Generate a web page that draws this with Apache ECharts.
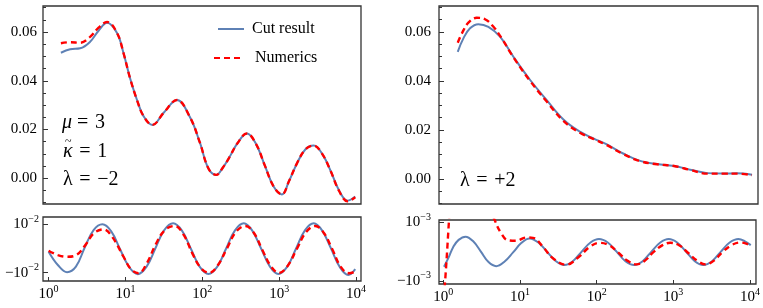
<!DOCTYPE html>
<html><head><meta charset="utf-8">
<script src="https://cdn.jsdelivr.net/npm/echarts@6/dist/echarts.min.js"></script>
<style>html,body{margin:0;padding:0;background:#fff}#c{width:763px;height:308px}</style>
</head><body><div id="c"></div>
<script>
const FONT = '"Liberation Serif", "Times New Roman", serif';
const BLUE = '#5E81B5';
const RED = '#FF0000';
const FRAME = '#333333';

// tick values
const xDecades = [1, 10, 100, 1000, 10000];
const yTicksTop = [0, 0.02, 0.04, 0.06];
const yMinorTop = [-0.01, -0.005, 0.005, 0.01, 0.015, 0.025, 0.03, 0.035, 0.045, 0.05, 0.055, 0.065, 0.07];
const yTicksBL = [-0.01, 0.01];
const yTicksBR = [-0.001, 0.001];

// top-left (lambda = -2)
const tlCutX = [1.445, 1.905, 2.570, 3.467, 4.467, 5.754, 7.762, 9.441, 11.48, 14.13, 17.18, 22.39, 31.62, 46.77, 69.18, 93.33, 120.2, 151.4, 186.2, 223.9, 288.4, 380.2, 501.2, 645.7, 851.1, 1084, 1349, 1698, 2188, 2818, 3631, 4677, 6026, 7762, 9772];
const tlCutY = [0.0515, 0.0529, 0.0533, 0.0560, 0.0605, 0.0638, 0.0596, 0.0513, 0.0410, 0.0321, 0.0255, 0.0219, 0.0270, 0.0321, 0.0250, 0.0145, 0.0040, 0.0014, 0.0045, 0.0085, 0.0145, 0.0184, 0.0140, 0.0055, -0.0035, -0.0066, -0.0010, 0.0060, 0.0118, 0.0134, 0.0100, 0.0030, -0.0050, -0.0092, -0.0075];
const tlNumX = [1.445, 1.905, 2.570, 3.467, 4.467, 5.754, 7.762, 9.441, 11.48, 14.13, 17.18, 22.39, 31.62, 46.77, 69.18, 93.33, 120.2, 151.4, 186.2, 223.9, 288.4, 380.2, 501.2, 645.7, 851.1, 1084, 1349, 1698, 2188, 2818, 3631, 4677, 6026, 7762, 9772];
const tlNumY = [0.0554, 0.0558, 0.0556, 0.0580, 0.0618, 0.0641, 0.0596, 0.0513, 0.0410, 0.0321, 0.0255, 0.0219, 0.0270, 0.0321, 0.0250, 0.0145, 0.0040, 0.0014, 0.0045, 0.0085, 0.0145, 0.0184, 0.0140, 0.0055, -0.0035, -0.0066, -0.0010, 0.0060, 0.0118, 0.0134, 0.0100, 0.0030, -0.0052, -0.0094, -0.0078];

// bottom-left residuals
const blCutX = [1, 1.318, 1.738, 2.265, 2.951, 3.846, 5.012, 6.531, 8.511, 11.09, 14.45, 18.84, 24.55, 31.99, 41.69, 54.33, 70.79, 92.26, 120.2, 156.7, 204.2, 266.1, 346.7, 446.7, 582.1, 758.6, 977.2, 1274, 1660, 2163, 2818, 3631, 4732, 6166, 7943, 9772];
const blCutY = [-0.0013, -0.0068, -0.0098, -0.0075, 0.0004, 0.0076, 0.0100, 0.0071, -0.0003, -0.0075, -0.0106, -0.0075, 0.0001, 0.0076, 0.0104, 0.0074, 0.0000, -0.0075, -0.0105, -0.0075, 0.0000, 0.0075, 0.0104, 0.0074, 0.0000, -0.0075, -0.0105, -0.0075, 0.0000, 0.0075, 0.0104, 0.0074, 0.0000, -0.0077, -0.0109, -0.0085];
const blNumX = [1, 1.318, 1.738, 2.291, 3.020, 3.890, 5.188, 6.761, 9.441, 11.75, 14.79, 19.05, 24.55, 32.36, 43.65, 57.54, 74.13, 95.50, 123.0, 158.5, 208.9, 275.4, 363.1, 467.7, 602.6, 776.2, 1000, 1288, 1698, 2239, 2951, 3802, 4898, 6310, 8128, 9772];
const blNumY = [-0.0009, -0.0027, -0.0034, -0.0027, 0.0015, 0.0063, 0.0079, 0.0047, -0.0034, -0.0085, -0.0102, -0.0060, 0.0015, 0.0075, 0.0093, 0.0055, -0.0020, -0.0080, -0.0101, -0.0070, 0.0000, 0.0070, 0.0093, 0.0065, -0.0005, -0.0072, -0.0101, -0.0072, -0.0002, 0.0068, 0.0093, 0.0065, -0.0002, -0.0075, -0.0102, -0.0096];

// top-right (lambda = +2)
const trCutX = [1.538, 1.820, 2.218, 2.844, 3.837, 5.433, 8.091, 13.34, 21.88, 35.97, 58.88, 89.13, 131.8, 213.8, 354.8, 588.8, 977.2, 1585, 2630, 4266, 6310, 10000];
const trCutY = [0.0519, 0.0574, 0.0615, 0.0632, 0.0621, 0.0581, 0.0499, 0.0404, 0.0322, 0.0243, 0.0193, 0.0165, 0.0141, 0.0104, 0.0074, 0.0061, 0.0053, 0.0038, 0.0024, 0.0022, 0.0023, 0.0017];
const trNumX = [1.538, 1.738, 2.113, 2.710, 3.467, 4.467, 5.715, 8.091, 13.34, 21.88, 35.97, 58.88, 89.13, 131.8, 213.8, 354.8, 588.8, 977.2, 1585, 2630, 4266, 6310, 10000];
const trNumY = [0.0556, 0.0594, 0.0638, 0.0658, 0.0652, 0.0621, 0.0574, 0.0497, 0.0400, 0.0316, 0.0237, 0.0189, 0.0163, 0.0138, 0.0102, 0.0073, 0.0060, 0.0053, 0.0037, 0.0022, 0.0022, 0.0022, 0.0016];

// bottom-right residuals
const brCutX = [1.021, 1.175, 1.349, 1.585, 1.950, 2.455, 3.090, 3.890, 4.898, 6.310, 8.128, 10.47, 13.34, 17.38, 22.39, 29.51, 38.02, 48.98, 63.83, 83.18, 107.2, 139.6, 182.0, 237.1, 309.0, 398.1, 518.8, 676.1, 871.0, 1122, 1462, 1905, 2455, 3199, 4169, 5433, 7079, 8511, 10233];
const brCutY = [-0.00052, -0.00020, 0.00016, 0.00040, 0.00051, 0.00035, 0.00000, -0.00036, -0.00050, -0.00034, -0.00003, 0.00030, 0.00045, 0.00031, 0.00000, -0.00033, -0.00046, -0.00033, 0.00000, 0.00031, 0.00043, 0.00031, 0.00000, -0.00033, -0.00046, -0.00033, 0.00000, 0.00031, 0.00043, 0.00031, 0.00000, -0.00033, -0.00046, -0.00033, 0.00000, 0.00031, 0.00043, 0.00036, 0.00022];
const brNumX = [1, 1.050, 1.189, 1.318, 3.162, 3.981, 4.677, 5.702, 6.918, 8.913, 12.02, 14.79, 19.95, 26.92, 39.81, 58.88, 79.43, 109.6, 144.5, 190.5, 251.2, 331.1, 426.6, 549.5, 724.4, 912.0, 1202, 1549, 2042, 2630, 3388, 4365, 5754, 7413, 8913, 10233];
const brNumY = [-0.0016, -0.0011, 0.0011, 0.0030, 0.0030, 0.0016, 0.00108, 0.00062, 0.00039, 0.00037, 0.00048, 0.00047, 0.00016, -0.00023, -0.00045, -0.00018, 0.00014, 0.00030, 0.00022, -0.00003, -0.00031, -0.00044, -0.00031, -0.00002, 0.00022, 0.00030, 0.00021, -0.00004, -0.00031, -0.00044, -0.00031, -0.00002, 0.00022, 0.00031, 0.00027, 0.00019];

const pairs = (xs, ys) => xs.map((x, i) => [x, ys[i]]);

const RICH = {
  b: { fontFamily: FONT, fontSize: 15, color: '#000', lineHeight: 20 },
  s: { fontFamily: FONT, fontSize: 10, color: '#000', lineHeight: 10, verticalAlign: 'top' }
};

function isDecade(v) {
  const e = Math.log10(v);
  return Math.abs(e - Math.round(e)) < 1e-6;
}

function xAx(gi, min, max, show) {
  return {
    type: 'log', logBase: 10, gridIndex: gi, min: min, max: max,
    axisLine: { show: false, onZero: false }, splitLine: { show: false }, minorTick: { show: false },
    axisTick: { show: show, inside: true, length: 4, lineStyle: { color: FRAME, width: 1 } },
    axisLabel: {
      show: show, margin: 3, showMinLabel: false, showMaxLabel: false,
      formatter: v => isDecade(v) ? '{b|10}{s|' + Math.round(Math.log10(v)) + '}' : '',
      rich: RICH
    }
  };
}

function yMajor(gi, min, max, ticks, margin, fmt) {
  return {
    type: 'value', gridIndex: gi, min: min, max: max, position: 'left',
    axisLine: { show: false, onZero: false }, splitLine: { show: false },
    axisTick: { show: true, inside: true, length: 5, customValues: ticks, lineStyle: { color: FRAME, width: 1 } },
    axisLabel: { show: true, margin: margin, customValues: ticks, formatter: fmt, rich: RICH,
      fontFamily: FONT, fontSize: 15, color: '#000' }
  };
}
function yMinor(gi, min, max, ticks) {
  return {
    type: 'value', gridIndex: gi, min: min, max: max, position: 'left', offset: 0,
    axisLine: { show: false, onZero: false }, splitLine: { show: false },
    axisTick: { show: true, inside: true, length: 3, customValues: ticks, lineStyle: { color: FRAME, width: 1 } },
    axisLabel: { show: false }
  };
}

const gridStyle = { show: true, borderColor: FRAME, borderWidth: 1.3, backgroundColor: 'transparent' };

const fmtTop = v => '{b|' + v.toFixed(2) + '}';
const fmtBL = v => v > 0 ? '{b|10}{s|−2}' : '{b|−10}{s|−2}';
const fmtBR = v => v > 0 ? '{b|10}{s|−3}' : '{b|−10}{s|−3}';

function cut(xi, yi, data) {
  return { name: 'Cut result', type: 'line', xAxisIndex: xi, yAxisIndex: yi, data: data,
    symbol: 'none', smooth: 0.4, lineStyle: { color: BLUE, width: 2 }, itemStyle: { color: BLUE },
    silent: true, animation: false, z: 2 };
}
function num(xi, yi, data) {
  return { name: 'Numerics', type: 'line', xAxisIndex: xi, yAxisIndex: yi, data: data,
    symbol: 'none', smooth: 0.4, lineStyle: { color: RED, width: 2.4, type: [6, 4] }, itemStyle: { color: RED },
    silent: true, animation: false, z: 3 };
}

const LEG_TEXT = { fontFamily: FONT, fontSize: 16, color: '#000' };

const chart = echarts.init(document.getElementById('c'), null, { renderer: 'canvas' });
chart.setOption({
  backgroundColor: '#fff',
  animation: false,
  grid: [
    Object.assign({ left: 43, top: 6, width: 318, height: 198 }, gridStyle),
    Object.assign({ left: 43, top: 217, width: 318, height: 64 }, gridStyle),
    Object.assign({ left: 439, top: 6, width: 319, height: 198 }, gridStyle),
    Object.assign({ left: 439, top: 220, width: 319, height: 64 }, gridStyle)
  ],
  xAxis: [
    xAx(0, 0.845, 11614, false),
    xAx(1, 0.845, 11614, true),
    xAx(2, 0.879, 11967, false),
    xAx(3, 0.879, 11967, true)
  ],
  yAxis: [
    yMajor(0, -0.01054, 0.07066, yTicksTop, 6, fmtTop),
    yMinor(0, -0.01054, 0.07066, yMinorTop),
    yMajor(1, -0.01343, 0.01302, yTicksBL, 4, fmtBL),
    yMajor(2, -0.0102, 0.0706, yTicksTop, 8, fmtTop),
    yMinor(2, -0.0102, 0.0706, yMinorTop),
    yMajor(3, -0.00111, 0.00108, yTicksBR, 8, fmtBR)
  ],
  legend: [
    { data: ['Cut result'], left: 217, top: 21, padding: 0, orient: 'vertical', itemWidth: 26, itemHeight: 14,
      itemStyle: { opacity: 0 }, textStyle: Object.assign({ padding: [0, 0, 0, 3] }, LEG_TEXT), selectedMode: false },
    { data: ['Numerics'], left: 213, top: 50, padding: 0, orient: 'vertical', itemWidth: 27, itemHeight: 14,
      itemStyle: { opacity: 0 }, textStyle: Object.assign({ padding: [0, 0, 0, 9] }, LEG_TEXT), selectedMode: false }
  ],
  graphic: [
    { type: 'text', x: 62, y: 123, style: { text: '{i|μ} =\u200A 3', verticalAlign: 'middle',
      fontFamily: FONT, fontSize: 20, fill: '#000',
      rich: { i: { fontFamily: FONT, fontSize: 20, fontStyle: 'italic', fill: '#000' } } } },
    { type: 'text', x: 63, y: 152, style: { text: '{i|κ}\u200A =\u200A 1', verticalAlign: 'middle',
      fontFamily: FONT, fontSize: 20, fill: '#000',
      rich: { i: { fontFamily: FONT, fontSize: 20, fontStyle: 'italic', fill: '#000' } } } },
    { type: 'text', x: 65, y: 142, style: { text: '~', verticalAlign: 'middle',
      fontFamily: FONT, fontSize: 12, fill: '#000' } },
    { type: 'text', x: 63, y: 180, style: { text: 'λ\u200A =\u200A −2', verticalAlign: 'middle',
      fontFamily: FONT, fontSize: 20, fill: '#000' } },
    { type: 'text', x: 460, y: 181, style: { text: 'λ\u200A =\u200A +2', verticalAlign: 'middle',
      fontFamily: FONT, fontSize: 20, fill: '#000' } }
  ],
  series: [
    cut(0, 0, pairs(tlCutX, tlCutY)),
    num(0, 0, pairs(tlNumX, tlNumY)),
    cut(1, 2, pairs(blCutX, blCutY)),
    num(1, 2, pairs(blNumX, blNumY)),
    cut(2, 3, pairs(trCutX, trCutY)),
    num(2, 3, pairs(trNumX, trNumY)),
    cut(3, 5, pairs(brCutX, brCutY)),
    num(3, 5, pairs(brNumX, brNumY))
  ]
});
</script></body></html>
